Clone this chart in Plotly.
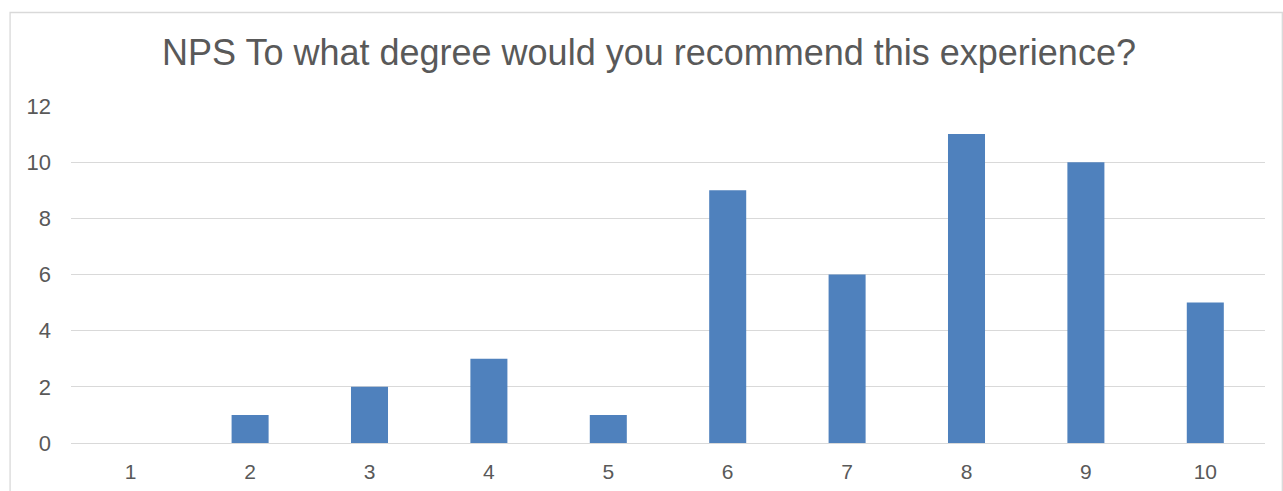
import plotly.graph_objects as go

# NPS survey: number of responses per score
scores = ["1", "2", "3", "4", "5", "6", "7", "8", "9", "10"]
responses = [0, 1, 2, 3, 1, 9, 6, 11, 10, 5]
y_ticks = [0, 2, 4, 6, 8, 10, 12]

W, H = 1283, 491
L, R, T, B = 71.4, 1265.2, 106, 443

fig = go.Figure(
    go.Bar(
        x=scores,
        y=responses,
        marker=dict(color="#4f81bd", line=dict(width=0)),
        width=0.31,
    )
)

pw, ph = R - L, B - T

fig.update_layout(
    width=W,
    height=H,
    margin=dict(l=L, r=W - R, t=T, b=H - B, pad=0, autoexpand=False),
    paper_bgcolor="white",
    plot_bgcolor="white",
    showlegend=False,
    font=dict(family="Liberation Sans, Arial, sans-serif", color="#595959"),
    title=dict(
        text="NPS To what degree would you recommend this experience?",
        font=dict(size=36, color="#595959"),
        x=649 / W,
        xref="container",
        xanchor="center",
        y=1 - 52 / H,
        yref="container",
        yanchor="middle",
    ),
    xaxis=dict(
        type="category",
        automargin=False,
        showgrid=False,
        showline=False,
        ticks="",
        tickfont=dict(size=21, color="#595959"),
        ticklabelstandoff=14,
    ),
    yaxis=dict(
        range=[0, 12],
        tickvals=y_ticks,
        automargin=False,
        showgrid=True,
        gridcolor="#d9d9d9",
        gridwidth=1.3,
        zeroline=True,
        zerolinecolor="#d9d9d9",
        zerolinewidth=1.3,
        showline=False,
        ticks="",
        tickfont=dict(size=22, color="#595959"),
        ticklabelstandoff=19,
    ),
    shapes=[
        dict(
            type="rect",
            xref="paper",
            yref="paper",
            x0=(10.5 - L) / pw,
            x1=(1282.5 - L) / pw,
            y0=(B - 500) / ph,
            y1=(B - 12.5) / ph,
            line=dict(color="#d9d9d9", width=1.3),
            fillcolor="rgba(0,0,0,0)",
            layer="below",
        )
    ],
)

fig.write_html("out.html")
